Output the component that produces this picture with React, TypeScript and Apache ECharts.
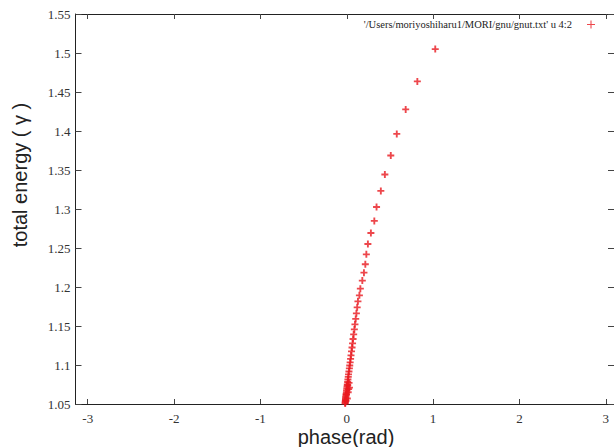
import React, { useEffect, useRef } from "react";
import * as echarts from "echarts";

const seriesName = "'/Users/moriyoshiharu1/MORI/gnu/gnut.txt' u 4:2";
const xTickMin = -3;
const xTickMax = 3;
const xTickStep = 1;
const yMin = 1.05;
const yMax = 1.55;
const yTickStep = 0.05;

const phase = [
  1.056, 0.847, 0.711, 0.607, 0.537, 0.468, 0.421, 0.371, 0.345, 0.305, 0.27, 0.252,
  0.24, 0.224, 0.205, 0.182, 0.171, 0.154, 0.145, 0.136, 0.128, 0.119, 0.112, 0.104,
  0.097, 0.091, 0.085, 0.079, 0.073, 0.068, 0.063, 0.058, 0.054, 0.049, 0.044, 0.041,
  0.037, 0.034, 0.03, 0.027, 0.024, 0.021, 0.019, 0.017, 0.014, 0.012, 0.01, 0.009,
  0.008, 0.007, 0.006, 0.005, 0.035, 0.045, 0.02, 0.05, 0.03, 0.04, 0.015, 0.055,
];
const energy = [
  1.505, 1.4636, 1.4277, 1.3963, 1.3686, 1.3442, 1.3232, 1.3026, 1.2847, 1.2693, 1.2551,
  1.2419, 1.2291, 1.2184, 1.2082, 1.1979, 1.1893, 1.1816, 1.1739, 1.1662, 1.1591, 1.1521,
  1.1456, 1.1392, 1.1334, 1.1277, 1.1225, 1.1174, 1.1123, 1.1078, 1.1033, 1.0994, 1.0956,
  1.0917, 1.0879, 1.0847, 1.0814, 1.0782, 1.075, 1.0725, 1.0699, 1.0673, 1.0648, 1.0628,
  1.0609, 1.059, 1.0571, 1.0558, 1.0545, 1.0532, 1.0519, 1.0506, 1.074, 1.069, 1.062,
  1.077, 1.057, 1.065, 1.054, 1.071,
];

const PLUS_FILLED = "path://M2.2,0H3.8V2.2H6V3.8H3.8V6H2.2V3.8H0V2.2H2.2Z";
const PLUS_THIN = "path://M0,2.6H6V3.4H0ZM2.6,0H3.4V6H2.6Z";

const fmt = (v: number) => String(parseFloat(v.toFixed(2)));

// plot frame geometry (pixels)
const LEFT = 75.5;
const RIGHT_EDGE = 618;
const W = 614;
const PX_PER_UNIT = (RIGHT_EDGE - LEFT) / (2 * Math.PI);
const INSET = (Math.PI - 3) * PX_PER_UNIT;

export default function App() {
  const ref = useRef<HTMLDivElement>(null);
  useEffect(() => {
    if (!ref.current) return;
    const chart = echarts.init(ref.current, null, { renderer: "svg" });
    const data = phase.map((p, i) => [p, energy[i]]);
    const serif = "Times New Roman, Liberation Serif, serif";
    const lineStyle = { color: "#222", width: 1 };
    const tickStyle = { color: "#444" };
    const labelStyle = {
      fontFamily: serif,
      fontSize: 13,
      color: "#333",
      formatter: (v: number) => fmt(v),
    };
    chart.setOption({
      animation: false,
      backgroundColor: "#fff",
      textStyle: { fontFamily: serif },
      grid: [
        { left: LEFT, top: 14, right: W - RIGHT_EDGE, bottom: 43, show: false },
        { left: LEFT + INSET, top: 14, right: W - RIGHT_EDGE + INSET, bottom: 43, show: false },
      ],
      legend: {
        right: 14,
        top: 14,
        align: "right",
        icon: PLUS_THIN,
        itemWidth: 8,
        itemHeight: 8,
        textStyle: { fontFamily: serif, fontSize: 10.5, color: "#222", padding: [0, 10, 0, 0] },
        data: [{ name: seriesName, itemStyle: { color: "#e8191f" } }],
      },
      xAxis: [
        {
          gridIndex: 0,
          type: "value",
          min: -Math.PI,
          max: Math.PI,
          position: "bottom",
          axisLine: { show: true, onZero: false, lineStyle },
          splitLine: { show: false },
          axisTick: { show: false },
          axisLabel: { show: false },
        },
        {
          gridIndex: 0,
          type: "value",
          min: -Math.PI,
          max: Math.PI,
          position: "top",
          axisLine: { show: true, onZero: false, lineStyle },
          splitLine: { show: false },
          axisTick: { show: false },
          axisLabel: { show: false },
        },
        {
          gridIndex: 1,
          type: "value",
          min: xTickMin,
          max: xTickMax,
          interval: xTickStep,
          position: "bottom",
          axisLine: { show: false, onZero: false },
          splitLine: { show: false },
          axisTick: { show: true, inside: true, length: 5, lineStyle: tickStyle },
          axisLabel: { ...labelStyle, margin: 8, showMinLabel: true, showMaxLabel: true },
        },
        {
          gridIndex: 1,
          type: "value",
          min: xTickMin,
          max: xTickMax,
          interval: xTickStep,
          position: "top",
          axisLine: { show: false, onZero: false },
          splitLine: { show: false },
          axisTick: { show: true, inside: true, length: 5, lineStyle: tickStyle },
          axisLabel: { show: false },
        },
      ],
      yAxis: [
        {
          gridIndex: 0,
          type: "value",
          min: yMin,
          max: yMax,
          interval: yTickStep,
          position: "left",
          axisLine: { show: true, onZero: false, lineStyle },
          splitLine: { show: false },
          axisTick: { show: true, inside: true, length: 6, lineStyle: tickStyle },
          axisLabel: { ...labelStyle, margin: 5, showMinLabel: true, showMaxLabel: true },
        },
        {
          gridIndex: 0,
          type: "value",
          min: yMin,
          max: yMax,
          interval: yTickStep,
          position: "right",
          axisLine: { show: true, onZero: false, lineStyle },
          splitLine: { show: false },
          axisTick: { show: true, inside: true, length: 6, lineStyle: tickStyle },
          axisLabel: { show: false },
        },
        {
          gridIndex: 1,
          type: "value",
          min: yMin,
          max: yMax,
          show: false,
        },
      ],
      series: [
        {
          name: seriesName,
          type: "scatter",
          xAxisIndex: 0,
          yAxisIndex: 0,
          data,
          symbol: PLUS_FILLED,
          symbolSize: 7,
          itemStyle: { color: "#e8191f" },
        },
      ],
      graphic: [
        {
          type: "text",
          x: 346,
          y: 437,
          style: {
            text: "phase(rad)",
            font: "20px Liberation Sans, Arial, sans-serif",
            fill: "#222",
            align: "center",
            verticalAlign: "middle",
          },
        },
        {
          type: "text",
          x: 20,
          y: 175,
          rotation: Math.PI / 2,
          style: {
            text: "total energy ( γ )",
            font: "20px Liberation Sans, Arial, sans-serif",
            fill: "#222",
            align: "center",
            verticalAlign: "middle",
          },
        },
      ],
    });
    return () => chart.dispose();
  }, []);
  return (
    <div
      ref={ref}
      style={{ position: "fixed", left: 0, top: 0, width: 614, height: 447 }}
    />
  );
}
